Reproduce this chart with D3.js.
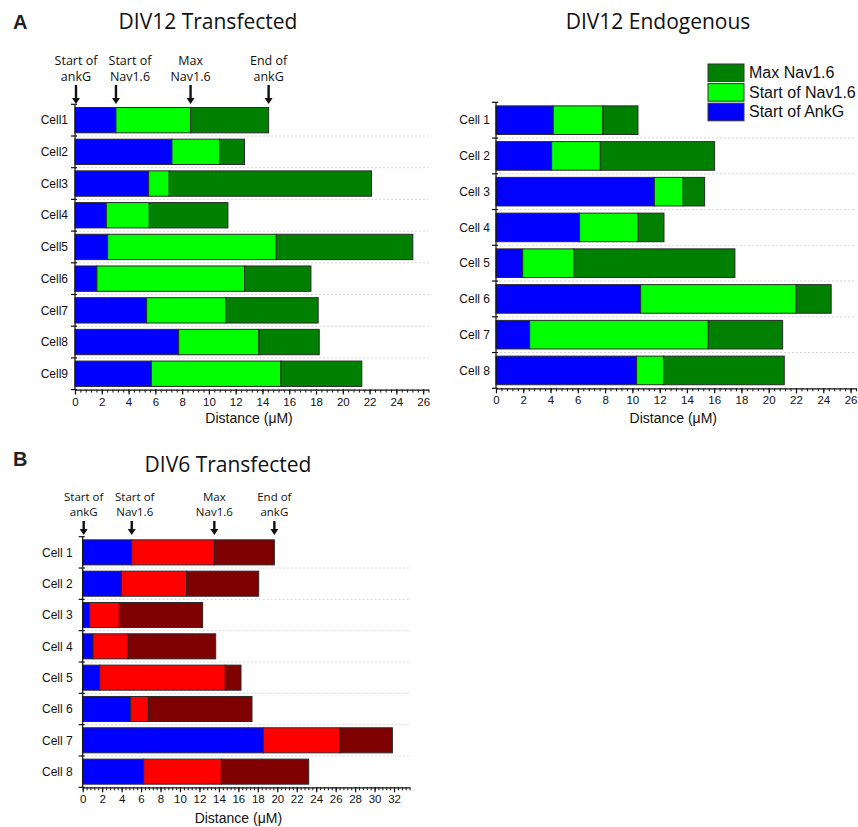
<!DOCTYPE html>
<html>
<head>
<meta charset="utf-8">
<script src="https://cdn.jsdelivr.net/npm/d3@7"></script>
<style>
  html, body { margin: 0; padding: 0; background: #fff; }
  svg { display: block; }
  .title { font-family: "Open Sans", sans-serif; font-size: 21px; fill: #111; }
  .panel { font-family: "Liberation Sans", Arial, sans-serif; font-size: 20px; font-weight: bold; fill: #222; }
  .note { font-family: "Open Sans", sans-serif; fill: #111; }
  .cell { font-family: "Liberation Sans", Arial, sans-serif; font-size: 12px; fill: #111; }
  .xlab { font-family: "Liberation Sans", Arial, sans-serif; font-size: 14px; fill: #111; }
  .legend { font-family: "Liberation Sans", Arial, sans-serif; font-size: 16px; fill: #111; }
  .tick text { font-family: "Liberation Sans", Arial, sans-serif; font-size: 11.5px; fill: #111; }
</style>
</head>
<body>
<svg id="fig" width="858" height="827"></svg>
<script>
// DIV12 transfected: positions along the axon (µm) of each landmark
const cellsA1 = ["Cell1", "Cell2", "Cell3", "Cell4", "Cell5", "Cell6", "Cell7", "Cell8", "Cell9"];
const startNavA1 = [3.06, 7.24, 5.50, 2.34, 2.44, 1.64, 5.35, 7.74, 5.70];
const maxNavA1   = [8.63, 10.80, 7.04, 5.55, 15.03, 12.66, 11.27, 13.73, 15.38];
const endAnkGA1  = [14.46, 12.66, 22.14, 11.42, 25.23, 17.62, 18.16, 18.24, 21.42];

// DIV12 endogenous
const cellsA2 = ["Cell 1", "Cell 2", "Cell 3", "Cell 4", "Cell 5", "Cell 6", "Cell 7", "Cell 8"];
const startNavA2 = [4.20, 4.08, 11.61, 6.13, 1.96, 10.61, 2.47, 10.31];
const maxNavA2   = [7.84, 7.65, 13.73, 10.43, 5.72, 22.02, 15.57, 12.29];
const endAnkGA2  = [10.41, 16.03, 15.30, 12.32, 17.52, 24.58, 21.02, 21.14];

// DIV6 transfected
const cellsB = ["Cell 1", "Cell 2", "Cell 3", "Cell 4", "Cell 5", "Cell 6", "Cell 7", "Cell 8"];
const startNavB = [5.04, 3.97, 0.72, 1.06, 1.75, 4.93, 18.57, 6.27];
const maxNavB   = [13.53, 10.69, 3.77, 4.66, 14.66, 6.75, 26.45, 14.25];
const endAnkGB  = [19.70, 18.09, 12.33, 13.67, 16.27, 17.40, 31.83, 23.23];

const ticksA = d3.range(0, 27, 2);   // 0 … 26
const ticksB = d3.range(0, 33, 2);   // 0 … 32
const legendLabels = ["Max Nav1.6", "Start of Nav1.6", "Start of AnkG"];
const noteLabels = [["Start of", "ankG"], ["Start of", "Nav1.6"], ["Max", "Nav1.6"], ["End of", "ankG"]];

const greenPalette = ["#0000ff", "#00ff00", "#008000"];
const redPalette = ["#0000ff", "#ff0000", "#7f0000"];

const svg = d3.select("#fig");

function drawPanel(opt) {
  const g = svg.append("g");
  const x = d3.scaleLinear().domain([0, opt.xmax]).range([opt.x0, opt.x1]);
  const y = d3.scaleBand().domain(opt.cells).range([opt.y0, opt.y1])
    .paddingInner(0.2).paddingOuter(0.1);
  const step = y.step();
  const boundaries = opt.cells.map(c => y(c) - step * 0.1).concat([opt.y1]);

  // dotted gridlines between rows
  g.selectAll("line.grid").data(boundaries.slice(1, -1)).join("line")
    .attr("class", "grid")
    .attr("x1", opt.x0).attr("x2", opt.x1)
    .attr("y1", d => d).attr("y2", d => d)
    .attr("stroke", "#d6d6d6").attr("stroke-width", 1)
    .attr("stroke-dasharray", "2,2");

  // stacked segments: [0, startNav], [startNav, maxNav], [maxNav, endAnkG]
  const rows = opt.cells.map((c, i) => ({
    cell: c,
    segs: [[0, opt.startNav[i]], [opt.startNav[i], opt.maxNav[i]], [opt.maxNav[i], opt.endAnkG[i]]]
  }));
  const rowG = g.selectAll("g.row").data(rows).join("g").attr("class", "row");
  rowG.selectAll("rect").data(d => d.segs.map((s, k) => ({ cell: d.cell, s, k }))).join("rect")
    .attr("x", d => x(d.s[0]))
    .attr("width", d => x(d.s[1]) - x(d.s[0]))
    .attr("y", d => y(d.cell))
    .attr("height", y.bandwidth())
    .attr("fill", d => opt.colors[d.k])
    .attr("stroke", "#2a2a2a").attr("stroke-width", 1);

  // y axis line with ticks at the row boundaries
  g.append("line").attr("x1", opt.x0).attr("x2", opt.x0)
    .attr("y1", opt.y0).attr("y2", opt.y1).attr("stroke", "#111").attr("stroke-width", 1.2);
  g.selectAll("line.ytick").data(boundaries).join("line")
    .attr("class", "ytick")
    .attr("x1", opt.x0 - 4).attr("x2", opt.x0 + 2)
    .attr("y1", d => d).attr("y2", d => d)
    .attr("stroke", "#111").attr("stroke-width", 1.2);
  g.selectAll("text.cell").data(opt.cells).join("text")
    .attr("class", "cell")
    .attr("x", opt.x0 - opt.labelGap)
    .attr("y", d => y(d) + y.bandwidth() / 2)
    .attr("dy", "0.35em")
    .attr("text-anchor", "end")
    .text(d => d);

  // x axis: minor ticks every 0.4, labelled ticks every 2
  const minor = d3.range(0, opt.xmax + 0.001, 0.4);
  g.append("g").attr("transform", `translate(0,${opt.y1})`)
    .call(d3.axisBottom(x).tickValues(minor).tickSize(3).tickSizeOuter(0).tickFormat(""))
    .call(a => a.select(".domain").attr("stroke", "#111").attr("stroke-width", 1.2))
    .call(a => a.selectAll(".tick line").attr("stroke", "#111"));
  g.append("g").attr("transform", `translate(0,${opt.y1})`)
    .call(d3.axisBottom(x).tickValues(opt.ticks).tickSize(5).tickSizeOuter(0).tickPadding(3))
    .call(a => a.select(".domain").remove())
    .call(a => a.selectAll(".tick line").attr("stroke", "#111").attr("stroke-width", 1.2));

  const last = opt.ticks[opt.ticks.length - 1];
  g.append("text").attr("class", "xlab")
    .attr("x", (x(0) + x(last)) / 2).attr("y", opt.xlabY)
    .attr("text-anchor", "middle").text("Distance (μM)");

  return { x, y };
}

function drawNotes(x, i, opt) {
  const g = svg.append("g");
  const pos = [0, opt.startNav[i], opt.maxNav[i], opt.endAnkG[i]];
  pos.forEach((v, k) => {
    const ax = x(v) + (k === 0 ? 1 : 0);
    noteLabels[k].forEach((line, j) => {
      g.append("text").attr("class", "note")
        .attr("font-size", opt.noteSize)
        .attr("text-anchor", "middle")
        .attr("x", ax + opt.noteShift[k])
        .attr("y", opt.noteY + j * opt.noteLine)
        .text(line);
    });
    // down arrow
    const top = opt.arrowTop, tip = opt.arrowTip, head = 6;
    g.append("path")
      .attr("d", `M${ax - 1.2},${top} L${ax + 1.2},${top} L${ax + 1.2},${tip - head} L${ax + 4},${tip - head} L${ax},${tip} L${ax - 4},${tip - head} L${ax - 1.2},${tip - head} Z`)
      .attr("fill", "#111");
  });
}

// panel letters and titles
svg.append("text").attr("class", "panel").attr("x", 13).attr("y", 29).text("A");
svg.append("text").attr("class", "panel").attr("x", 13).attr("y", 466).text("B");
svg.append("text").attr("class", "title").attr("x", 208).attr("y", 29).attr("text-anchor", "middle").text("DIV12 Transfected");
svg.append("text").attr("class", "title").attr("x", 658).attr("y", 29).attr("text-anchor", "middle").text("DIV12 Endogenous");
svg.append("text").attr("class", "title").attr("x", 228).attr("y", 472).attr("text-anchor", "middle").text("DIV6 Transfected");

const pA1 = drawPanel({
  cells: cellsA1, startNav: startNavA1, maxNav: maxNavA1, endAnkG: endAnkGA1,
  xmax: 26.4, x0: 75, x1: 428.5, y0: 104.3, y1: 389.6, ticks: ticksA,
  colors: greenPalette, labelGap: 7, xlabY: 423
});
drawNotes(pA1.x, 0, {
  startNav: startNavA1, maxNav: maxNavA1, endAnkG: endAnkGA1,
  noteSize: "12.5px", noteY: 65, noteLine: 16, noteShift: [0, 14, 0, 0],
  arrowTop: 85, arrowTip: 104
});

drawPanel({
  cells: cellsA2, startNav: startNavA2, maxNav: maxNavA2, endAnkG: endAnkGA2,
  xmax: 26.4, x0: 496, x1: 856, y0: 102.3, y1: 388.3, ticks: ticksA,
  colors: greenPalette, labelGap: 6, xlabY: 423
});

const pB = drawPanel({
  cells: cellsB, startNav: startNavB, maxNav: maxNavB, endAnkG: endAnkGB,
  xmax: 33.6, x0: 82.7, x1: 409.6, y0: 536.7, y1: 787.3, ticks: ticksB,
  colors: redPalette, labelGap: 10, xlabY: 823
});
drawNotes(pB.x, 0, {
  startNav: startNavB, maxNav: maxNavB, endAnkG: endAnkGB,
  noteSize: "11.5px", noteY: 500.5, noteLine: 15.8, noteShift: [0, 3, 0, 0],
  arrowTop: 521, arrowTip: 535
});

// legend for the DIV12 panels
const lg = svg.append("g");
legendLabels.forEach((lab, i) => {
  const yy = 64 + i * 19.6;
  lg.append("rect").attr("x", 708).attr("y", yy).attr("width", 36).attr("height", 17.6)
    .attr("fill", [greenPalette[2], greenPalette[1], greenPalette[0]][i])
    .attr("stroke", "#333").attr("stroke-width", 1);
  lg.append("text").attr("class", "legend").attr("x", 749).attr("y", yy + 14).text(lab);
});
</script>
</body>
</html>
